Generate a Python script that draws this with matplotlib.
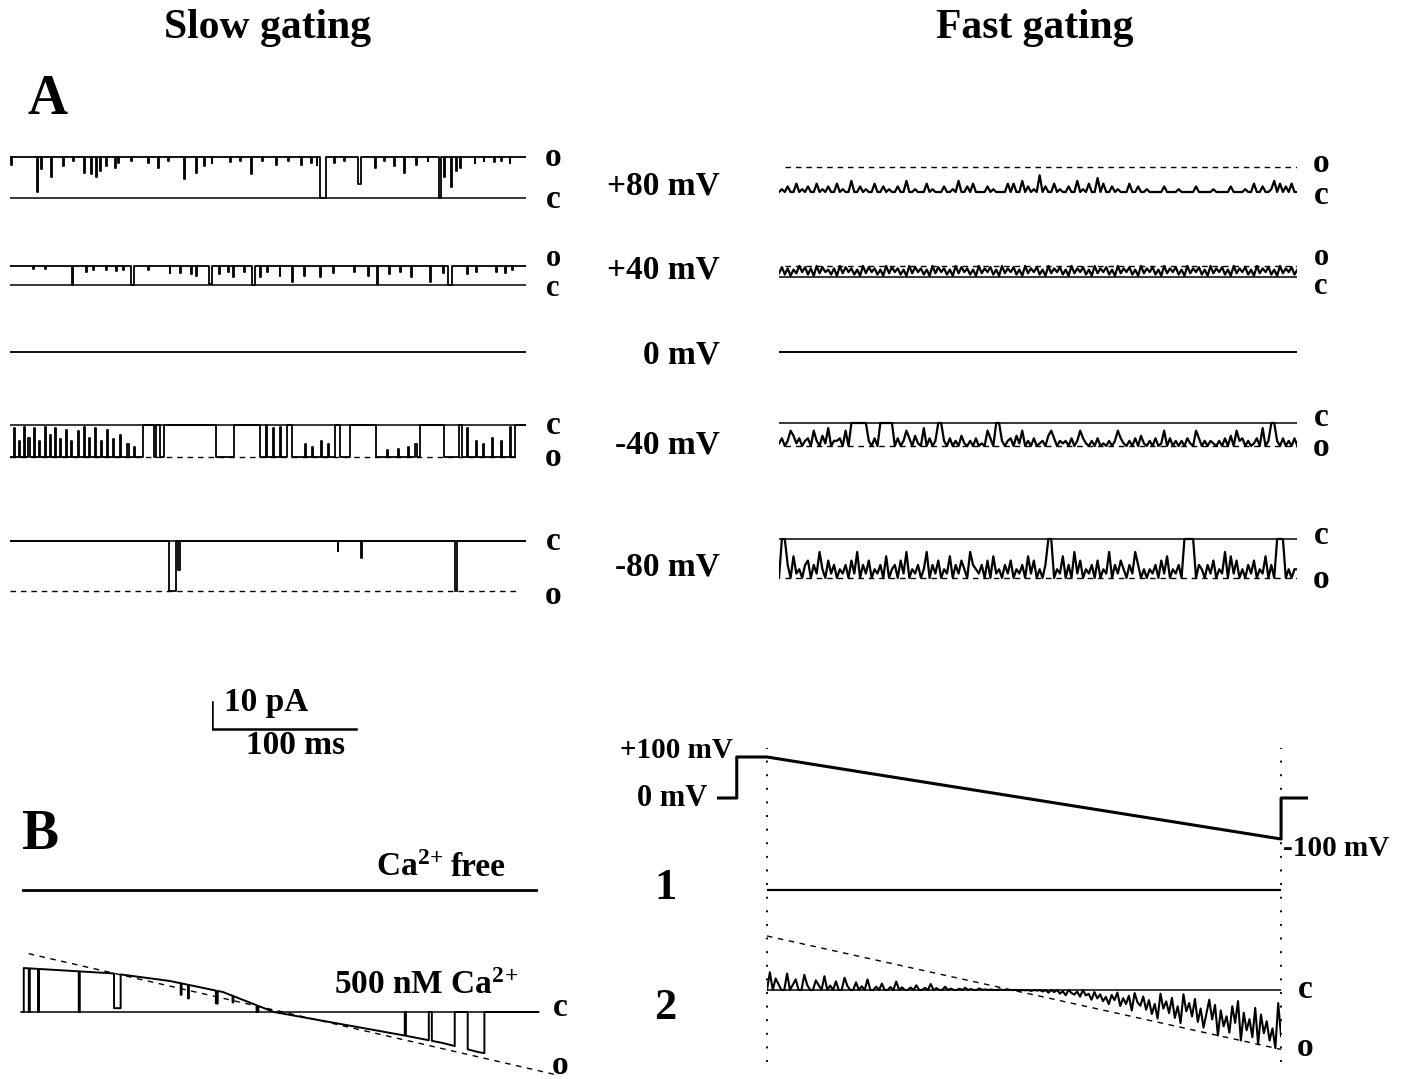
import numpy as np
import matplotlib.pyplot as plt

W, H = 1406, 1079
PX_PER_MS = 1.44
PX_PER_PA = 2.7
PX_PER_MV = 0.41
OUTPUT_PATH = "out.png"

plt.rcParams["font.family"] = ["Liberation Serif", "DejaVu Serif"]
plt.rcParams["font.weight"] = "bold"
plt.rcParams["mathtext.fontset"] = "custom"
plt.rcParams["mathtext.rm"] = "Liberation Serif:bold"
plt.rcParams["mathtext.bf"] = "Liberation Serif:bold"
plt.rcParams["mathtext.it"] = "Liberation Serif:bold"

VOLT_LABELS = ["+80 mV", "+40 mV", "0 mV", "-40 mV", "-80 mV"]

SLOW_MS = 358
FAST_MS = 360
RAMP_MS = 357

# unitary current (pA) at each potential, slow and fast gating patches
SLOW_AMP = [15.2, 7.0, 0.0, -11.8, -18.5]
FAST_AMP = [9.3, 4.1, 0.0, -8.5, -14.4]
SLOW_BASE = [1, 1, 0, 0, 0]

# slow gating events: (start ms, end ms, level) level 1 = open, 0 = closed
SLOW_P80 = [
    (0.5, 1.2, 0.8), (18.5, 19.3, 0.15), (21.7, 22.3, 0.7), (28.3, 29.0, 0.5),
    (37.0, 37.6, 0.77), (44.0, 44.5, 0.9), (51.7, 52.3, 0.62), (56.0, 56.6, 0.58),
    (59.6, 60.3, 0.5), (62.8, 63.4, 0.65), (67.0, 67.6, 0.77), (72.7, 73.3, 0.73),
    (75.0, 75.5, 0.85), (84.0, 84.5, 0.9), (96.0, 96.5, 0.85), (103.0, 103.6, 0.73),
    (110.0, 110.5, 0.9), (120.7, 121.5, 0.46), (129.0, 129.6, 0.62), (135.0, 135.6, 0.77),
    (140.0, 140.5, 0.85), (152.7, 153.2, 0.88), (160.0, 160.5, 0.9), (167.5, 168.2, 0.58),
    (175.0, 175.5, 0.9), (184.7, 185.2, 0.8), (193.0, 193.5, 0.9), (202.0, 202.5, 0.8),
    (209.0, 209.5, 0.85), (213.0, 213.5, 0.8), (215.5, 219.2, 0.0), (225.0, 225.5, 0.85),
    (232.0, 232.5, 0.9), (241.4, 243.8, 0.35), (253.7, 254.3, 0.73), (260.0, 260.5, 0.9),
    (267.0, 267.6, 0.77), (273.4, 274.0, 0.62), (282.0, 282.5, 0.8), (290.0, 290.5, 0.9),
    (298.0, 299.3, 0.0), (301.7, 302.3, 0.5), (306.0, 306.7, 0.27), (310.0, 310.6, 0.65),
    (312.8, 313.3, 0.73), (322.7, 323.2, 0.85), (329.0, 329.5, 0.9), (336.0, 336.5, 0.88),
    (341.0, 341.5, 0.9), (347.0, 347.5, 0.85),
]
SLOW_P40 = [
    (16.0, 16.6, 0.87), (24.6, 25.2, 0.84), (43.1, 43.9, 0.0), (53.0, 53.6, 0.71),
    (57.9, 58.5, 0.8), (66.5, 67.1, 0.8), (73.9, 74.5, 0.75), (78.8, 79.4, 0.8),
    (83.7, 86.2, 0.0), (96.0, 96.6, 0.8), (110.8, 111.4, 0.63), (118.2, 118.8, 0.63),
    (125.6, 126.2, 0.56), (129.3, 129.9, 0.48), (138.0, 140.4, 0.05), (145.3, 145.9, 0.56),
    (151.5, 152.1, 0.71), (155.2, 155.8, 0.4), (162.6, 163.2, 0.71), (168.2, 170.0, 0.0),
    (173.6, 174.2, 0.4), (178.6, 179.2, 0.71), (187.2, 187.8, 0.48), (195.8, 196.4, 0.16),
    (204.4, 205.0, 0.48), (215.5, 216.1, 0.4), (224.1, 224.7, 0.63), (238.9, 239.5, 0.71),
    (248.8, 249.4, 0.48), (255.0, 255.8, 0.05), (263.5, 264.1, 0.56), (270.9, 271.5, 0.71),
    (278.3, 278.9, 0.4), (291.9, 292.5, 0.16), (300.5, 301.1, 0.63), (304.0, 306.7, 0.0),
    (317.7, 318.3, 0.56), (323.9, 324.5, 0.71), (337.4, 338.0, 0.71), (343.6, 344.2, 0.63),
    (348.5, 349.1, 0.8),
]
SLOW_M40 = [
    # bursts
    (0.0, 92.6, 1), (100.0, 101.7, 1), (104.4, 106.7, 1), (143.2, 155.6, 1),
    (173.3, 192.6, 1), (195.6, 226.0, 1), (229.0, 235.8, 1), (254.3, 284.4, 1),
    (301.2, 311.6, 1), (314.0, 350.6, 1),
    # brief closures inside bursts
    (3.0, 3.8, 0.1), (6.2, 7.0, 0.5), (9.4, 10.2, 0.05), (12.8, 13.6, 0.4),
    (16.8, 17.6, 0.1), (19.8, 20.6, 0.5), (24.2, 25.0, 0.05), (27.7, 28.5, 0.3),
    (31.1, 31.9, 0.1), (34.6, 35.4, 0.45), (39.0, 39.8, 0.15), (42.5, 43.3, 0.5),
    (46.9, 47.7, 0.2), (51.4, 52.2, 0.05), (54.8, 55.6, 0.4), (58.8, 59.6, 0.1),
    (63.0, 63.8, 0.5), (67.2, 68.0, 0.15), (71.6, 72.4, 0.45), (76.5, 77.3, 0.3),
    (81.5, 82.3, 0.6), (85.9, 86.7, 0.7), (177.8, 178.8, 0.0), (182.7, 183.5, 0.1),
    (187.7, 188.5, 0.05), (205.0, 205.8, 0.6), (209.9, 210.7, 0.7), (216.0, 216.8, 0.5),
    (221.0, 221.8, 0.6), (261.7, 262.5, 0.8), (269.1, 269.9, 0.75), (276.5, 277.3, 0.7),
    (281.5, 282.3, 0.6), (317.3, 318.1, 0.1), (323.5, 324.3, 0.5), (328.4, 329.2, 0.6),
    (334.6, 335.4, 0.4), (340.7, 341.5, 0.5), (346.9, 347.7, 0.05),
]
SLOW_M80 = [
    (110.2, 115.6, 1.0), (116.8, 118.2, 0.58), (227.5, 228.1, 0.2),
    (244.0, 244.6, 0.34), (309.0, 310.7, 1.0),
]
SLOW_EVENTS = [SLOW_P80, SLOW_P40, [], SLOW_M40, SLOW_M80]

# fast gating: open fraction (0-9) read every ~2 ms along each sweep
FAST_P80 = ("0102003010200301020030100400201003002010020040010003010002001040020300"
            "0020100003030040201060200301002004010300503002010003002001000002000010"
            "0000200000100000200001003002001403020300")
FAST_P40 = ("3827163948271938462719384726193847261938472619384726193847261938472619"
            "3748261937482619374826193748261937482619374826193748261937482619374826"
            "1937482619374826193748261937482619374826")
FAST_M40 = ("8697358697693795829776939000000796900000969736958929697007969795897969"
            "8936900797695839796987953697879697368979698979736897969589796983969797"
            "9689369797897969593769798692970079697969")
FAST_M80 = ("9006948796596837958697869583968597869497695839786973968597849685793678"
            "6959487968597869485979600978496938597869597839685796836979786958497869"
            "0000967968597839485979685978496900097977")
FAST_LEVELS = [FAST_P80, FAST_P40, "", FAST_M40, FAST_M80]

# B: ramp +100 -> -100 mV
PROTOCOL_T = [-35, -21, -21, 0, RAMP_MS, RAMP_MS, 376]
PROTOCOL_V = [0, 0, 100, 100, -100, 0, 0]

# slow patch, 500 nM Ca2+: open level along the ramp (ms, pA) and closures
B_SLOW_OPEN_T = [0.0, 62.5, 101.9, 138.9, 174.3, 266.0, 291.7, 316.7, 358.0]
B_SLOW_OPEN_I = [16.3, 14.3, 11.5, 7.4, 0.0, -8.8, -11.5, -14.9, -18.5]
B_SLOW_EVENTS = [
    (0.0, 0.6, 0.0), (4.1, 4.8, 0.0), (10.5, 11.2, 0.0), (38.8, 39.5, 0.0),
    (63.3, 67.9, 0.1), (109.6, 110.2, 0.6), (114.7, 115.3, 0.5), (134.0, 135.3, 0.4),
    (145.6, 146.2, 0.6), (162.3, 163.5, 0.0), (265.2, 266.0, 0.0), (281.9, 284.0, 0.0),
    (299.9, 308.9, 0.0), (320.5, 358.0, 0.0),
]
B_SLOW_DASH_T = [4, 370]
B_SLOW_DASH_I = [21.6, -23.2]

# fast patch along the ramp: open level (dashed) and open fraction (0-9)
B_FAST_DASH_T = [0, RAMP_MS]
B_FAST_DASH_I = [20.0, -22.0]
B_FAST_LEVELS = ("0302100301200310021030102003100201030010200103010010200103010020100102"
                 "0100201010020100201010201020302031402314032514253624163527145263748153"
                 "6274815362748526394758362947583947586927")

SCALE_MS = 100
SCALE_PA = 10


def add_axes(fig, x_left, y_zero, t_min, t_max, y_per_unit=PX_PER_PA, half=70):
    w_px = (t_max - t_min) * PX_PER_MS
    ax = fig.add_axes([x_left / W, (H - y_zero - half) / H, w_px / W, 2 * half / H])
    ax.set_xlim(t_min, t_max)
    ax.set_ylim(-half / y_per_unit, half / y_per_unit)
    ax.axis("off")
    return ax


def step_trace(t_end, base, events, extra=()):
    edges = {0.0, float(t_end)} | set(extra)
    for t0, t1, _ in events:
        edges.update((t0, t1))
    edges = sorted(e for e in edges if 0 <= e <= t_end)
    ts, ls = [], []
    for a, b in zip(edges[:-1], edges[1:]):
        lv = base
        for t0, t1, l in events:
            if t0 <= a and b <= t1:
                lv = l
        ts += [a, b]
        ls += [lv, lv]
    return np.array(ts), np.array(ls)


def digits(s):
    return np.array([int(c) for c in s]) / 9.0


def label(fig, x, y, s, size=24, ha="center", va="center"):
    fig.text(x / W, 1 - y / H, s, fontsize=size, ha=ha, va=va, fontweight="bold")


def main():
    fig = plt.figure(figsize=(W / 100, H / 100), dpi=100)

    label(fig, 268, 28, "Slow gating", size=30)
    label(fig, 1035, 28, "Fast gating", size=30)
    label(fig, 47, 100, "A", size=40)
    label(fig, 40, 835, "B", size=40)

    slow_zero = [198, 285, 352, 425, 541]
    fast_zero = [192, 277, 352, 423, 539]
    volt_y = [186, 270, 355, 445, 567]
    for i in range(5):
        label(fig, 720, volt_y[i], VOLT_LABELS[i], ha="right")

        # slow gating sweep
        ax = add_axes(fig, 10, slow_zero[i], 0, SLOW_MS)
        t, lv = step_trace(SLOW_MS, SLOW_BASE[i], SLOW_EVENTS[i])
        amp = SLOW_AMP[i]
        ax.plot(t, lv * amp, color="black", lw=1.3)
        if amp != 0:
            ax.plot([0, SLOW_MS], [0, 0], color="black", lw=1.1)
            if amp < 0:
                ax.plot([0, SLOW_MS * 0.985], [amp, amp], color="black", lw=1.0,
                        ls=(0, (4, 3.5)))

        # fast gating sweep
        ax = add_axes(fig, 779, fast_zero[i], 0, FAST_MS)
        if FAST_LEVELS[i]:
            f = digits(FAST_LEVELS[i])
            tt = np.linspace(0, FAST_MS, len(f))
            if FAST_AMP[i] < 0 or i == 1:
                ax.plot([0, FAST_MS], [0, 0], color="black", lw=1.1)
            ax.plot([4, FAST_MS], [FAST_AMP[i]] * 2, color="black", lw=1.0,
                    ls=(0, (4, 3.5)))
            ax.plot(tt, f * FAST_AMP[i], color="black", lw=1.6)
        else:
            ax.plot([0, FAST_MS], [0, 0], color="black", lw=1.4)

    # c / o labels
    for x, ys in [(553, [(158, "o"), (200, "c"), (258, "o"), (288, "c"),
                         (426, "c"), (458, "o"), (541, "c"), (595, "o")]),
                  (1321, [(164, "o"), (195, "c"), (257, "o"), (287, "c"),
                          (417, "c"), (448, "o"), (536, "c"), (580, "o")])]:
        for y, s in ys:
            label(fig, x, y, s, size=22 if 250 < y < 300 else 24)

    # scale bar
    ax = add_axes(fig, 212, 729, 0, SCALE_MS + 5)
    ax.plot([0, 0, SCALE_MS], [SCALE_PA, 0, 0], color="black", lw=1.8)
    label(fig, 224, 703, "10 pA", ha="left")
    label(fig, 296, 746, "100 ms")

    # B left: Ca2+ free and 500 nM Ca2+
    ax = add_axes(fig, 22, 890, 0, SLOW_MS)
    ax.plot([0, SLOW_MS], [0, 0], color="black", lw=2.0)
    label(fig, 376, 868, r"Ca$^{2\!+}$", ha="left")
    label(fig, 506, 868, "free", ha="right")

    ax = add_axes(fig, 20, 1012, -2, 372)
    ax.plot([-1.5, SLOW_MS], [0, 0], color="black", lw=1.1)
    ax.plot(B_SLOW_DASH_T, B_SLOW_DASH_I, color="black", lw=1.0, ls=(0, (4, 4)))
    t, lv = step_trace(SLOW_MS, 1, B_SLOW_EVENTS, extra=B_SLOW_OPEN_T)
    ax.plot(t, lv * np.interp(t, B_SLOW_OPEN_T, B_SLOW_OPEN_I), color="black", lw=1.4)
    label(fig, 518, 985, r"500 nM Ca$^{2\!+}$", ha="right")
    label(fig, 560, 1008, "c")
    label(fig, 560, 1065, "o")

    # B right: voltage protocol
    x0 = 767 + PROTOCOL_T[0] * PX_PER_MS
    ax = add_axes(fig, x0, 798, PROTOCOL_T[0], PROTOCOL_T[-1], y_per_unit=PX_PER_MV)
    ax.plot(PROTOCOL_T, PROTOCOL_V, color="black", lw=2.2)
    label(fig, 733, 750, "+100 mV", size=21, ha="right")
    label(fig, 707, 798, "0 mV", size=22, ha="right")
    label(fig, 1283, 848, "-100 mV", size=21, ha="left")

    ax = add_axes(fig, x0, 905, PROTOCOL_T[0], PROTOCOL_T[-1], half=157)
    for tv in (0, RAMP_MS):
        ax.axvline(tv, color="black", lw=1.4, ls=(0, (1, 6)))

    ax = add_axes(fig, 767, 890, 0, RAMP_MS)
    ax.plot([0, RAMP_MS], [0, 0], color="black", lw=1.6)
    label(fig, 665, 888, "1", size=32)

    ax = add_axes(fig, 767, 990, 0, RAMP_MS)
    ax.plot([0, RAMP_MS], [0, 0], color="black", lw=1.1)
    ax.plot(B_FAST_DASH_T, B_FAST_DASH_I, color="black", lw=1.0, ls=(0, (4, 4)))
    f = digits(B_FAST_LEVELS)
    tt = np.linspace(0, RAMP_MS, len(f))
    ax.plot(tt, f * np.interp(tt, B_FAST_DASH_T, B_FAST_DASH_I), color="black", lw=1.5)
    label(fig, 665, 1008, "2", size=32)
    label(fig, 1305, 990, "c")
    label(fig, 1305, 1047, "o")

    fig.savefig(OUTPUT_PATH, dpi=100)


if __name__ == "__main__":
    main()
